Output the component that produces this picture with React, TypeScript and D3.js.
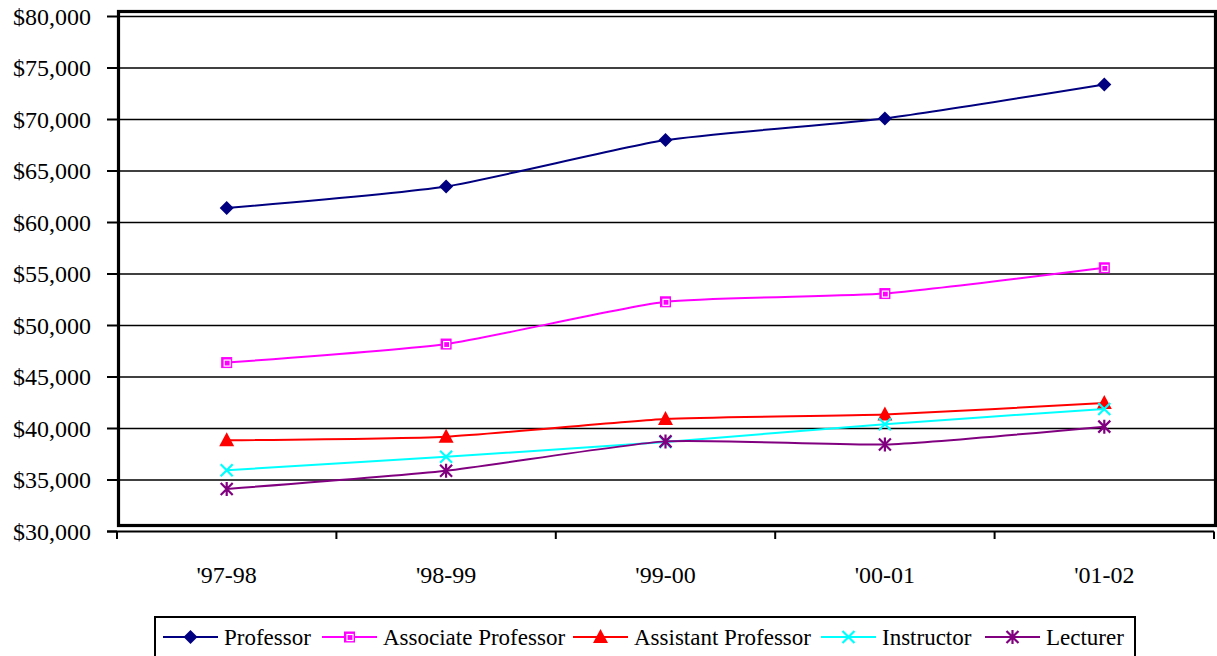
import React from "react";
import * as d3 from "d3";

const categories = ["'97-98", "'98-99", "'99-00", "'00-01", "'01-02"];
const professor = [61400, 63500, 68000, 70100, 73400];
const associateProfessor = [46400, 48200, 52300, 53100, 55600];
const assistantProfessor = [38850, 39200, 40920, 41350, 42480];
const instructor = [35950, 37250, 38700, 40420, 41900];
const lecturer = [34130, 35900, 38750, 38450, 40180];
const yTicks = [30000, 35000, 40000, 45000, 50000, 55000, 60000, 65000, 70000, 75000, 80000];

const seriesNames = ["Professor", "Associate Professor", "Assistant Professor", "Instructor", "Lecturer"];
const seriesColors = ["#000080", "#FF00FF", "#FF0000", "#00FFFF", "#800080"];
const seriesMarkers = ["diamond", "square", "triangle", "x", "star"];

const W = 1217;
const H = 656;
const FONT = "Liberation Serif";
const K = 0.5;

function Marker({ type, color, x, y }: { type: string; color: string; x: number; y: number }) {
  if (type === "diamond") {
    return <path d={`M${x},${y - 7}L${x + 7},${y}L${x},${y + 7}L${x - 7},${y}Z`} fill={color} />;
  }
  if (type === "square") {
    return (
      <g>
        <rect x={x - 5} y={y - 5} width={10} height={10} fill="#FF00FF" stroke={color} strokeWidth={1} />
        <rect x={x - 2.5} y={y - 2.5} width={6} height={6} fill="none" stroke="#fff" strokeWidth={1.2} />
      </g>
    );
  }
  if (type === "triangle") {
    return <path d={`M${x},${y - 8}L${x + 7.5},${y + 6}L${x - 7.5},${y + 6}Z`} fill={color} />;
  }
  if (type === "x") {
    return <path d={`M${x - 6},${y - 6}L${x + 6},${y + 6}M${x + 6},${y - 6}L${x - 6},${y + 6}`} stroke={color} strokeWidth={2.2} fill="none" />;
  }
  return (
    <path
      d={`M${x - 6},${y - 6}L${x + 6},${y + 6}M${x + 6},${y - 6}L${x - 6},${y + 6}M${x},${y - 7}L${x},${y + 7}`}
      stroke={color}
      strokeWidth={2.2}
      fill="none"
    />
  );
}

function Label({ x, y, size, anchor, children }: { x: number; y: number; size: number; anchor?: string; children: React.ReactNode }) {
  return (
    <text
      transform={`translate(${x},${y}) scale(${K})`}
      fontSize={size / K}
      textAnchor={anchor || "start"}
      fill="#000"
      style={{ fontFamily: FONT }}
    >
      {children}
    </text>
  );
}

export default function App() {
  const left = 117;
  const right = 1214;
  const x = d3.scaleBand<string>().domain(categories).range([left, right]);
  const y = d3.scaleLinear().domain([30000, 80000]).range([531.5, 16.5]);
  const allSeries = [professor, associateProfessor, assistantProfessor, instructor, lecturer];
  const line = d3
    .line<number>()
    .x((_, i) => (x(categories[i]) as number) + x.bandwidth() / 2)
    .y((d) => y(d))
    .curve(d3.curveCardinal.tension(0.45));
  const fmt = (v: number) => "$" + d3.format(",")(v);

  const legendItems = [
    { lineX: 163, textX: 224 },
    { lineX: 322, textX: 383 },
    { lineX: 573, textX: 634 },
    { lineX: 821, textX: 882 },
    { lineX: 985, textX: 1046 },
  ];

  return (
    <svg width={W} height={H} style={{ position: "absolute", left: 0, top: 0, background: "#fff" }}>
      {yTicks.filter((t) => t > 30000).map((t) => (
        <line key={t} x1={left} x2={right} y1={y(t)} y2={y(t)} stroke="#000" strokeWidth={1.3} />
      ))}
      <rect x={118.5} y={11.5} width={1097} height={514} fill="none" stroke="#000" strokeWidth={3.2} />
      <line x1={107} x2={right} y1={y(30000)} y2={y(30000)} stroke="#000" strokeWidth={2} />
      {yTicks.map((t) => (
        <g key={t}>
          <line x1={107} x2={left} y1={y(t)} y2={y(t)} stroke="#000" strokeWidth={2} />
          <Label x={91} y={y(t) + 8} size={24} anchor="end">
            {fmt(t)}
          </Label>
        </g>
      ))}
      {categories.map((c, i) => (
        <line key={"t" + i} x1={x(c)} x2={x(c)} y1={y(30000)} y2={539} stroke="#000" strokeWidth={2} />
      ))}
      <line x1={right} x2={right} y1={y(30000)} y2={539} stroke="#000" strokeWidth={2} />
      {categories.map((c) => (
        <Label key={c} x={(x(c) as number) + x.bandwidth() / 2} y={583} size={24} anchor="middle">
          {c}
        </Label>
      ))}
      {allSeries.map((s, si) => (
        <g key={si}>
          <path d={line(s) || ""} fill="none" stroke={seriesColors[si]} strokeWidth={2} />
          {s.map((v, i) => (
            <Marker
              key={i}
              type={seriesMarkers[si]}
              color={seriesColors[si]}
              x={(x(categories[i]) as number) + x.bandwidth() / 2}
              y={y(v)}
            />
          ))}
        </g>
      ))}
      <rect x={155} y={617} width={980} height={44} fill="#fff" stroke="#000" strokeWidth={2} />
      {seriesNames.map((n, i) => (
        <g key={n}>
          <line x1={legendItems[i].lineX} x2={legendItems[i].lineX + 55} y1={637} y2={637} stroke={seriesColors[i]} strokeWidth={2} />
          <Marker type={seriesMarkers[i]} color={seriesColors[i]} x={legendItems[i].lineX + 27.5} y={637} />
          <Label x={legendItems[i].textX} y={645} size={23}>
            {n}
          </Label>
        </g>
      ))}
    </svg>
  );
}
